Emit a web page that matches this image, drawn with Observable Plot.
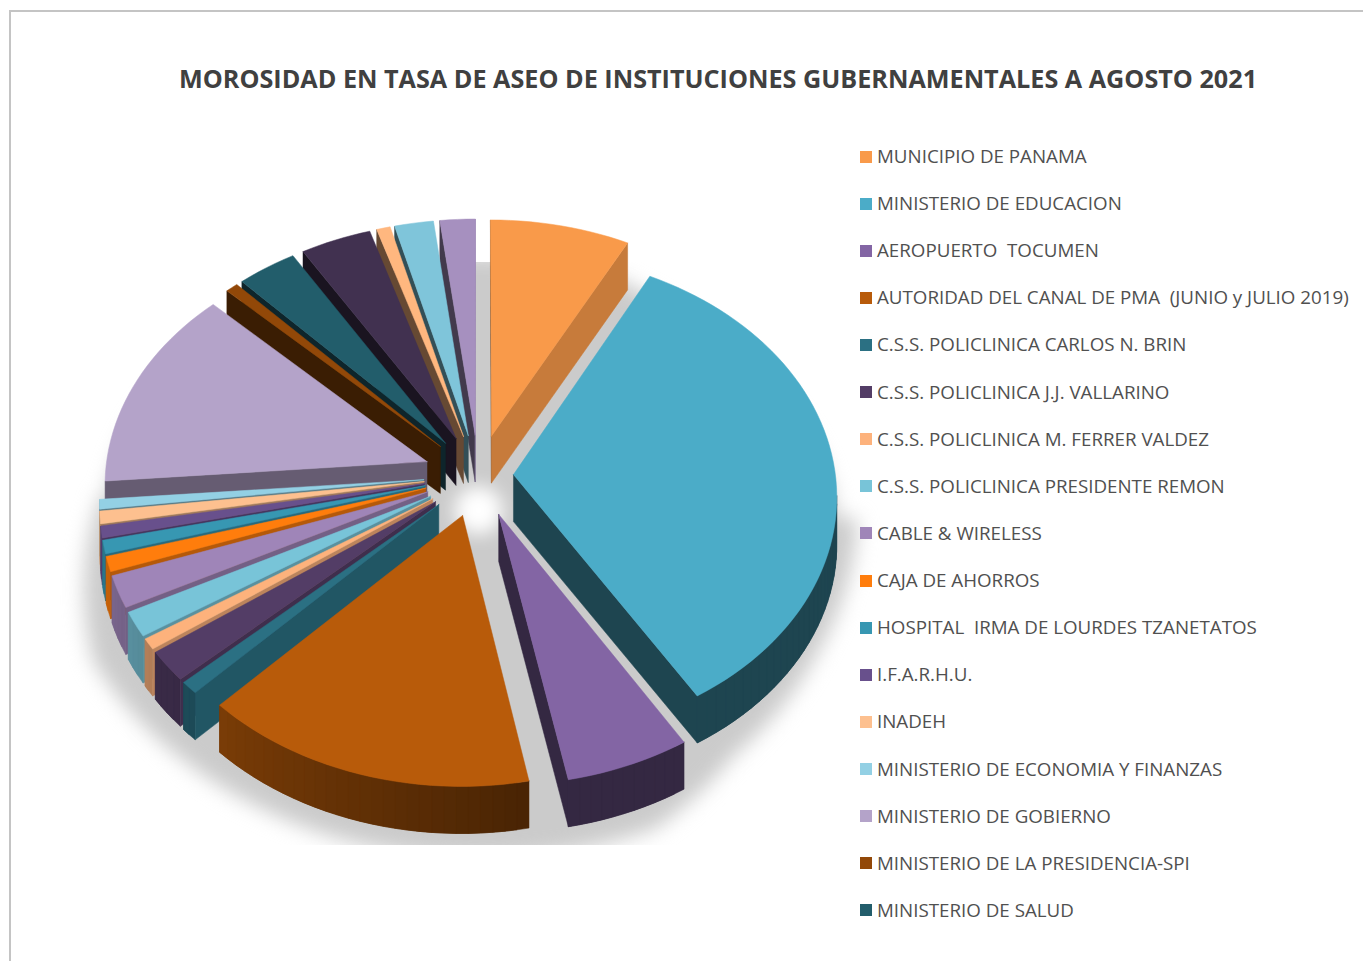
<!DOCTYPE html>
<html><head><meta charset="utf-8">
<script src="https://cdn.jsdelivr.net/npm/d3@7"></script>
<script src="https://cdn.jsdelivr.net/npm/@observablehq/plot@0.6"></script>
<style>
html,body{margin:0;padding:0;background:#fff;width:1363px;height:961px;overflow:hidden;position:relative;font-family:"Open Sans",sans-serif}
#frame{position:absolute;left:9px;top:10px;width:1400px;height:1000px;border:2px solid #c4c4c4;box-sizing:border-box;z-index:2;pointer-events:none}
#chart{position:absolute;left:0;top:0}
#title{position:absolute;left:179px;top:61px;margin:0;font-weight:700;font-size:25.2px;line-height:34px;color:#404040;white-space:pre}
.row{position:absolute;left:860px;height:24px;display:flex;align-items:center;white-space:pre;font-size:18.75px;color:#505050}
.row i{display:block;width:12px;height:12px;margin-right:5px}
.row span{position:relative;top:-1px}
</style></head><body>
<div id="chart"></div><div id="frame"></div>
<h1 id="title"></h1><div id="legend"></div>
<script>
const chartTitle = "MOROSIDAD EN TASA DE ASEO DE INSTITUCIONES GUBERNAMENTALES A AGOSTO 2021";
const institutions = ["MUNICIPIO DE PANAMA","MINISTERIO DE EDUCACION","AEROPUERTO  TOCUMEN","AUTORIDAD DEL CANAL DE PMA  (JUNIO y JULIO 2019)","C.S.S. POLICLINICA CARLOS N. BRIN","C.S.S. POLICLINICA J.J. VALLARINO","C.S.S. POLICLINICA M. FERRER VALDEZ","C.S.S. POLICLINICA PRESIDENTE REMON","CABLE & WIRELESS","CAJA DE AHORROS","HOSPITAL  IRMA DE LOURDES TZANETATOS","I.F.A.R.H.U.","INADEH","MINISTERIO DE ECONOMIA Y FINANZAS","MINISTERIO DE GOBIERNO","MINISTERIO DE LA PRESIDENCIA-SPI","MINISTERIO DE SALUD"];
// share of the total, percent; the last four slices are beyond the visible legend
const shares = [7.67,33.58,5.69,15.28,0.83,2.03,0.72,1.64,2.11,1.0,0.89,0.78,0.83,0.64,13.58,0.69,3.29,3.89,0.75,2.14,1.94];
const explosion = [55,35,55,55,55,55,55,55,55,55,55,55,55,55,55,55,55,55,55,55,55];
const colors = ["#f99a4a","#4bacc8","#8365a4","#b85b0a","#2b7083","#533d66","#fdb27c","#78c4d8","#9f85b8","#ff7d0c","#3797b2","#68508c","#fdc08f","#93d0e4","#b4a3c9","#924808","#225d6b","#413150","#ffb77f","#7fc5da","#a690bf"];

// view of the tilted pie
const cx=478, cy=475, tilt=0.748, cam=3800, R=322, depth=47, rad=Math.PI/180;
const proj=(X,Y,z=0)=>{const p=cam/(cam-Y);return [cx+X*p, cy+Y*tilt*p+z];};
const wallShade=d3.scaleLinear([90,117,165,182,220,360],[.85,.8,.7,.48,.4,.4]);
const arcShade=d3.scaleLinear([0,30,90,170,224,260,360],[.8,.8,.4,.4,.66,.8,.8]);
const tint=(c,s)=>{const q=d3.rgb(c);return d3.rgb(q.r*s,q.g*s,q.b*s).formatHex();};

const total=d3.sum(shares);
let acc=0;
const slices=shares.map((v,i)=>{const a0=acc/total*360;acc+=v;const a1=acc/total*360;return {i,a0,a1,mid:(a0+a1)/2,e:explosion[i],color:colors[i]};});
const plane=(s,th,r)=>[s.e*Math.sin(s.mid*rad)+r*Math.sin(th*rad), -s.e*Math.cos(s.mid*rad)-r*Math.cos(th*rad)];

const rows=[]; const shadowRows=[]; let sid=0;
const add=(pts,color,target=rows)=>{const id=sid++;[...pts,pts[0]].forEach(([x,y])=>target.push({id,x,y,color}));};
const arcPts=(s,r)=>{const n=Math.max(2,Math.ceil((s.a1-s.a0)/2));return d3.range(n+1).map(k=>s.a0+(s.a1-s.a0)*k/n).map(t=>plane(s,t,r));};

[...slices].sort((a,b)=>Math.cos(b.mid*rad)-Math.cos(a.mid*rad)).forEach(s=>{
  const apex=plane(s,0,0), arc=arcPts(s,R), n=arc.length-1;
  for(let k=0;k<n;k++){
    const th=s.a0+(s.a1-s.a0)*(k+.5)/n, m=plane(s,th,R);
    const nx=Math.sin(th*rad), ny=-Math.cos(th*rad);
    if((-m[0])*nx+(cam-m[1])*ny>0){
      const A=arc[k],M=arc[k+1],B=arc[Math.min(k+2,n)];
      const c=tint(s.color,arcShade(th));
      add([proj(A[0],A[1]),proj(M[0],M[1]),proj(B[0],B[1]),proj(B[0],B[1],depth),proj(M[0],M[1],depth),proj(A[0],A[1],depth)],c);
    }
  }
  [[s.a0,s.a0-90,arc[0]],[s.a1,s.a1+90,arc[n]]].forEach(([th,phi,E])=>{
    const nx=Math.sin(phi*rad), ny=-Math.cos(phi*rad);
    if((-apex[0])*nx+(cam-apex[1])*ny>0){
      add([proj(...apex),proj(...E),proj(E[0],E[1],depth),proj(apex[0],apex[1],depth)],tint(s.color,wallShade((phi+360)%360)));
    }
  });
  add([proj(...apex),...arc.map(p=>proj(...p))],s.color);
});

// soft shadow underneath: the slices dropped, a hub, and a wider lower skirt
const shadowTop=262, shadowBottom=845, shadowDrop=40, shadowColor="#cbcbcb";
slices.forEach(s=>add([plane(s,0,0),...arcPts(s,R)].map(p=>proj(p[0],p[1],shadowDrop)),shadowColor,shadowRows));
add(d3.range(0,360,4).map(t=>[cx+300*Math.sin(t*rad),cy+5-225*Math.cos(t*rad)]),shadowColor,shadowRows);
const skirtX=470, skirtY=490, skirtTilt=0.85;
const skirtReach=d3.scaleLinear([95,120,140,155,180,210,242,271],[388,396,408,438,432,428,427,365]);
add([[skirtX,skirtY],...d3.range(95,272,3).map(t=>{const r=skirtReach(t);return [skirtX+r*Math.sin(t*rad),skirtY-skirtTilt*r*Math.cos(t*rad)];})],shadowColor,shadowRows);

const figure=Plot.plot({
  width:1363,height:961,margin:0,
  x:{domain:[0,1363],range:[0,1363],axis:null},
  y:{domain:[0,961],range:[0,961],axis:null},
  color:{type:"identity"},
  marks:[
    Plot.line(shadowRows,{x:"x",y:"y",z:"id",fill:"color",stroke:"color",strokeWidth:1,imageFilter:"blur(10px)"}),
    Plot.rect([0],{x1:()=>0,x2:()=>1363,y1:()=>0,y2:()=>shadowTop,fill:"white"}),
    Plot.rect([0],{x1:()=>0,x2:()=>1363,y1:()=>shadowBottom,y2:()=>961,fill:"white"}),
    Plot.dot([proj(0,46)],{x:d=>d[0],y:d=>d[1],r:24,fill:"white",imageFilter:"blur(9px)"}),
    Plot.line(rows,{x:"x",y:"y",z:"id",fill:"color",stroke:"color",strokeWidth:0.5})
  ]
});
figure.style.background="transparent";
document.getElementById("chart").append(figure);
document.getElementById("title").textContent=chartTitle;
const legend=document.getElementById("legend");
institutions.forEach((name,i)=>{
  const row=document.createElement("div");row.className="row";
  row.style.top=(144.5+47.12*i)+"px";
  const sw=document.createElement("i");sw.style.background=colors[i];
  const label=document.createElement("span");label.textContent=name;
  row.append(sw,label);legend.append(row);
});
</script></body></html>
